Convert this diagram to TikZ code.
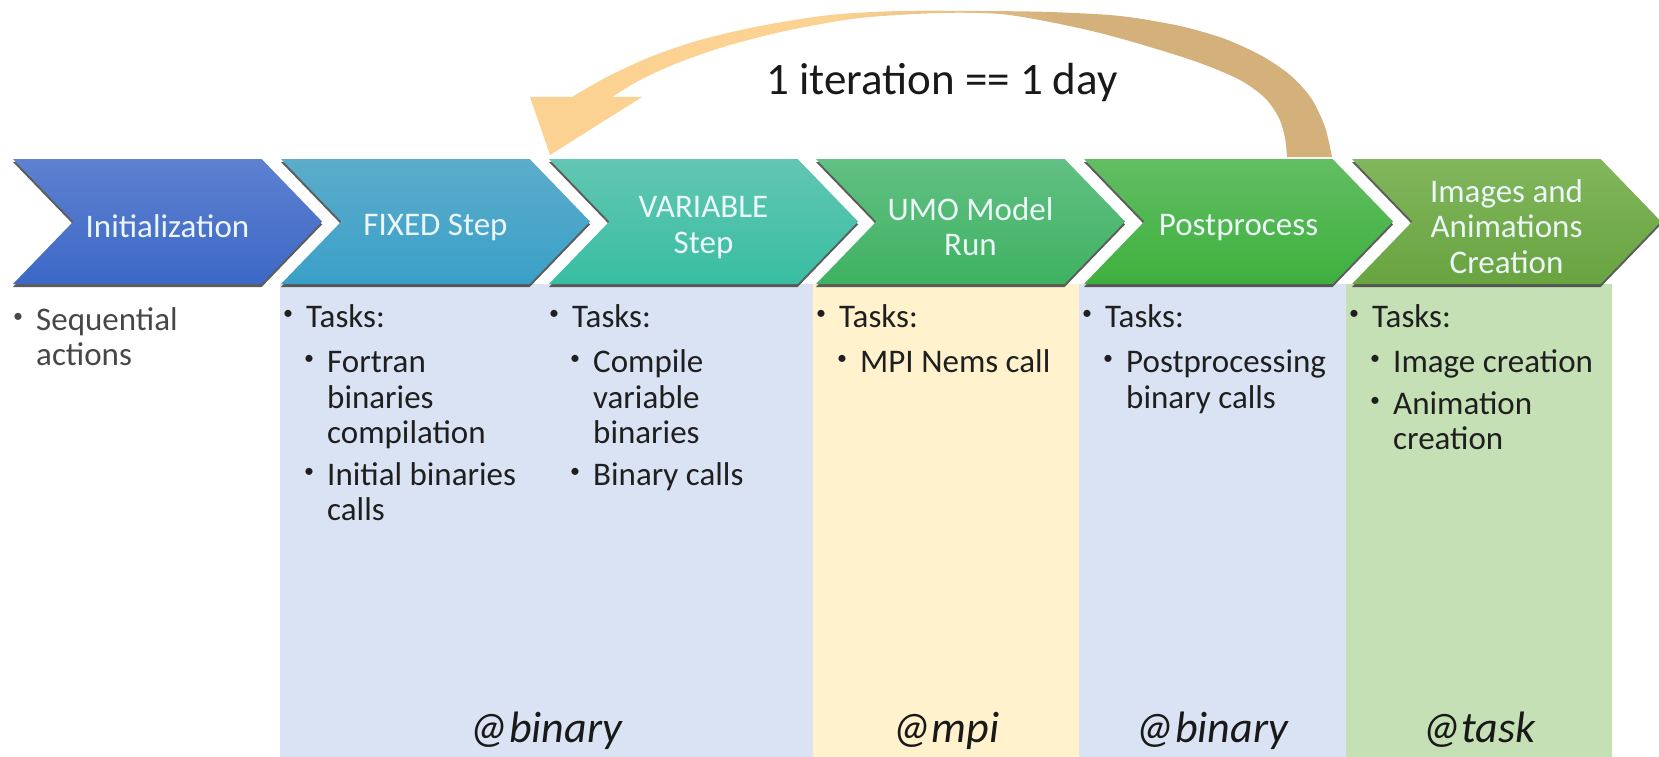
\documentclass[tikz,border=0pt]{standalone}
\usepackage{fontspec}
\setmainfont{Carlito}
\usetikzlibrary{shapes.symbols,shadows}

\definecolor{initTop}{RGB}{94,129,208}
\definecolor{initBot}{RGB}{60,104,198}
\definecolor{fixTop}{RGB}{92,172,202}
\definecolor{fixBot}{RGB}{58,160,200}
\definecolor{varTop}{RGB}{98,198,178}
\definecolor{varBot}{RGB}{56,190,162}
\definecolor{umoTop}{RGB}{98,192,132}
\definecolor{umoBot}{RGB}{62,178,96}
\definecolor{postTop}{RGB}{98,190,98}
\definecolor{postBot}{RGB}{62,176,62}
\definecolor{imgTop}{RGB}{130,182,92}
\definecolor{imgBot}{RGB}{104,164,64}
\definecolor{chevtext}{RGB}{236,246,248}
\definecolor{panelblue}{RGB}{218,227,243}
\definecolor{panelyellow}{RGB}{255,242,204}
\definecolor{panelgreen}{RGB}{197,224,180}
\definecolor{loopL}{RGB}{251,210,145}
\definecolor{loopR}{RGB}{212,176,122}

\pgfdeclarehorizontalshading{loopshade}{100bp}{color(0bp)=(loopL); color(44bp)=(loopL); color(58bp)=(loopR); color(100bp)=(loopR)}

\newcommand{\bul}{\makebox[23pt][l]{\raisebox{8pt}{\fontsize{20}{20}\selectfont\textbullet}}}
\newcommand{\mainpt}{\leftskip=23pt\noindent\llap{\bul}}
\newcommand{\subpt}{\leftskip=44pt\noindent\llap{\bul}}
\newcommand{\chevup}{\rule{0pt}{33pt}}

\begin{document}
\begin{tikzpicture}[x=1pt,y=-1pt,
	chevron/.style={signal, signal to=east, signal from=west, signal pointer angle=92,
		minimum width=309pt, minimum height=125pt, inner sep=0pt, align=center,
		text=chevtext, font=\fontsize{33}{35.5}\selectfont,
		drop shadow={shadow xshift=0pt, shadow yshift=-3pt, fill=black!75, opacity=0.85}},
	tasklist/.style={anchor=base west, text width=262pt, align=flush left, inner sep=0pt,
		text=black!88, font=\fontsize{33}{35.5}\selectfont,
		execute at begin node=\setlength{\parskip}{6pt}},
	tag/.style={anchor=base, inner sep=0pt, text=black!90, font=\fontsize{44}{48}\selectfont\itshape}]
	\useasboundingbox (0,0) rectangle (1659,757);

	\fill [panelblue] (280,284) rectangle (813,757);
	\fill [panelyellow] (813,284) rectangle (1079,757);
	\fill [panelblue] (1079,284) rectangle (1346,757);
	\fill [panelgreen] (1346,284) rectangle (1612,757);

	\node at (167.5,221.5) [chevron, top color=initTop, bottom color=initBot] (init) {\chevup Initialization};
	\node at (435.5,221.5) [chevron, top color=fixTop, bottom color=fixBot] (fixed) {\chevup FIXED Step};
	\node at (703.5,221.5) [chevron, top color=varTop, bottom color=varBot] (variable) {\chevup VARIABLE\\Step};
	\node at (970.5,221.5) [chevron, top color=umoTop, bottom color=umoBot] (umo) {\chevup UMO Model\\Run};
	\node at (1238.5,221.5) [chevron, top color=postTop, bottom color=postBot] (post) {\chevup Postprocess};
	\node at (1506.5,221.5) [chevron, top color=imgTop, bottom color=imgBot] (images) {\chevup Images and\\Animations\\Creation};

	% loop arrow back to the variable step
	\shade [shading=loopshade] (1332,157)
		-- plot [smooth] coordinates {(1332,157) (1325,127) (1311,98) (1290,75) (1262,56) (1225,39) (1180,26) (1120,16) (1050,12) (980,11) (900,11) (830,15) (760,26) (700,40) (650,57) (605,78) (572,97)}
		-- (530,97) -- (550,155) -- (642,97) -- (612,97)
		-- plot [smooth] coordinates {(612,97) (640,80) (680,62) (730,45) (790,30) (860,18) (940,13) (1000,14) (1050,22) (1100,33) (1150,47) (1200,63) (1240,80) (1265,98) (1279,118) (1285,138) (1287,157)}
		-- cycle;
	\node at (942,95) [anchor=base, inner sep=0pt, text=black!90, font=\fontsize{45}{48}\selectfont] (loop) {1 iteration == 1 day};

	\node at (13,330) [tasklist, text=black!72] (t1) {\mainpt Sequential\newline actions\par};
	\node at (283,327) [tasklist] (t2) {\mainpt Tasks:\par\vspace{4pt}
		\subpt Fortran\newline binaries\newline compilation\par
		\subpt Initial binaries\newline calls\par};
	\node at (549,327) [tasklist] (t3) {\mainpt Tasks:\par\vspace{4pt}
		\subpt Compile\newline variable\newline binaries\par
		\subpt Binary calls\par};
	\node at (816,327) [tasklist] (t4) {\mainpt Tasks:\par\vspace{4pt}
		\subpt MPI Nems call\par};
	\node at (1082,327) [tasklist] (t5) {\mainpt Tasks:\par\vspace{4pt}
		\subpt Postprocessing\newline binary calls\par};
	\node at (1349,327) [tasklist] (t6) {\mainpt Tasks:\par\vspace{4pt}
		\subpt Image creation\par
		\subpt Animation\newline creation\par};

	\node at (546,742) [tag] (binA) {@binary};
	\node at (946,742) [tag] (mpi) {@mpi};
	\node at (1212,742) [tag] (binB) {@binary};
	\node at (1479,742) [tag] (task) {@task};
\end{tikzpicture}
\end{document}
